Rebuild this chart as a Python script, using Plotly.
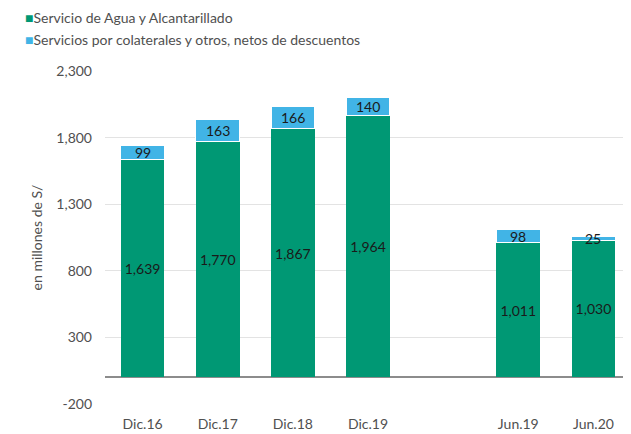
import plotly.graph_objects as go

# -----------------------------------------
# DATA
# -----------------------------------------
categories = ["Dic.16", "Dic.17", "Dic.18", "Dic.19", " ", "Jun.19", "Jun.20"]
agua = [1639, 1770, 1867, 1964, None, 1011, 1030]
colaterales = [99, 163, 166, 140, None, 98, 25]
series_names = ["Servicio de Agua y Alcantarillado",
                "Servicios por colaterales y otros, netos de descuentos"]
y_ticks = [-200, 300, 800, 1300, 1800, 2300]
y_tick_labels = ["-200", "300", "800", "1,300", "1,800", "2,300"]

GREEN = "#009874"
BLUE = "#41b4e6"
FONT = "Lato, Open Sans, sans-serif"
TEXT_GRAY = "#505050"

fig = go.Figure()

fig.add_trace(go.Bar(
    x=categories, y=agua,
    name=series_names[0],
    marker=dict(color=GREEN, line=dict(width=0)),
    text=[f"{v:,}" if v is not None else "" for v in agua],
    textposition="inside", insidetextanchor="middle", textangle=0,
    textfont=dict(color="#1a1a1a", size=14, family=FONT),
))

fig.add_trace(go.Bar(
    x=categories, y=colaterales,
    name=series_names[1],
    marker=dict(color=BLUE, line=dict(width=1, color="white")),
))

# labels for the top segment (centred on each blue block)
for c, a, b in zip(categories, agua, colaterales):
    if a is None:
        continue
    fig.add_annotation(
        x=c, y=a + b / 2, text=str(b), showarrow=False,
        font=dict(color="#1a1a1a", size=14, family=FONT),
    )

# compact legend, top-left
for i, (name, col) in enumerate(zip(series_names, [GREEN, BLUE])):
    fig.add_annotation(
        xref="paper", yref="paper",
        x=-0.155, y=1.162 - i * 0.066, xanchor="left", yanchor="middle",
        text=f"<span style='color:{col}'>■</span>{name}",
        showarrow=False, font=dict(size=14, color=TEXT_GRAY, family=FONT),
    )

fig.update_layout(
    barmode="stack",
    bargap=0.42,
    showlegend=False,
    width=623, height=426,
    margin=dict(l=97, r=0, t=63, b=30, autoexpand=False),
    paper_bgcolor="white",
    plot_bgcolor="white",
    font=dict(family=FONT, color=TEXT_GRAY, size=14),
    yaxis=dict(
        range=[-200, 2300],
        tickvals=y_ticks, ticktext=y_tick_labels,
        gridcolor="#e3e3e3", gridwidth=1,
        zeroline=True, zerolinecolor="#8c8c8c", zerolinewidth=1.5,
        ticks="", ticklabelstandoff=12,
        title=dict(text="en millones de S/", standoff=10, font=dict(size=14)),
    ),
    xaxis=dict(type="category", showgrid=False, ticks="",
               tickfont=dict(size=14), ticklabelstandoff=10),
)

fig.write_html("out.html")
